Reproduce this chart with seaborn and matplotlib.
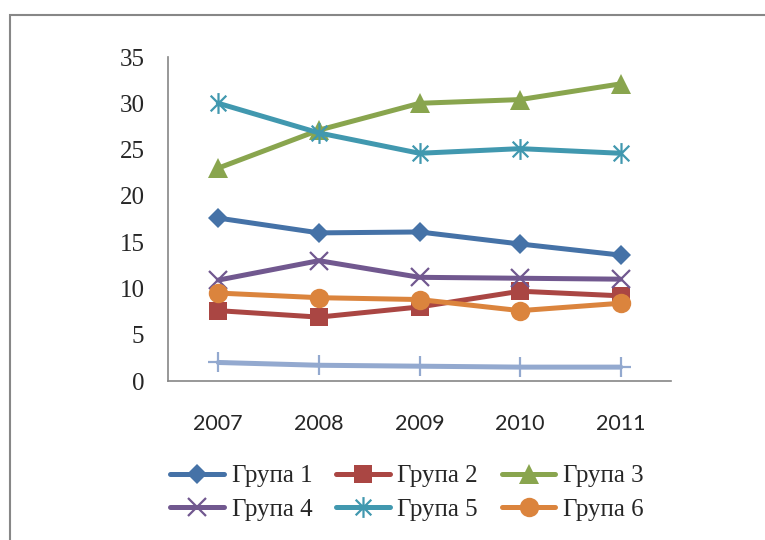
import numpy as np
import pandas as pd
import matplotlib
matplotlib.use("Agg")
import matplotlib.pyplot as plt
from matplotlib.path import Path
from matplotlib.patches import Rectangle
import seaborn as sns

years = ["2007", "2008", "2009", "2010", "2011"]
group_names = ["Група 1", "Група 2", "Група 3", "Група 4", "Група 5", "Група 6", "Група 7"]
group1 = [17.6, 16.0, 16.1, 14.8, 13.6]
group2 = [7.6, 6.9, 8.0, 9.7, 9.2]
group3 = [23.0, 27.1, 30.0, 30.4, 32.1]
group4 = [10.9, 13.0, 11.2, 11.1, 11.0]
group5 = [30.0, 26.8, 24.6, 25.1, 24.6]
group6 = [9.5, 9.0, 8.8, 7.6, 8.4]
group7 = [2.0, 1.7, 1.6, 1.5, 1.5]
y_ticks = [0, 5, 10, 15, 20, 25, 30, 35]

series = [group1, group2, group3, group4, group5, group6, group7]
colors = ["#4572A7", "#AA4643", "#89A54E", "#71588F", "#4198AF", "#DB843D", "#93A9CF"]

# asterisk marker: vertical stroke plus an X
star = Path(
    [(0, -1), (0, 1), (-0.75, -0.75), (0.75, 0.75), (-0.75, 0.75), (0.75, -0.75)],
    [Path.MOVETO, Path.LINETO, Path.MOVETO, Path.LINETO, Path.MOVETO, Path.LINETO],
)
marker_styles = [
    dict(marker="D", markersize=10, markeredgewidth=0),
    dict(marker="s", markersize=13, markeredgewidth=0),
    dict(marker="^", markersize=14.5, markeredgewidth=0),
    dict(marker="x", markersize=13, markeredgewidth=1.6),
    dict(marker=star, markersize=15, markeredgewidth=1.6),
    dict(marker="o", markersize=14, markeredgewidth=0),
    dict(marker="+", markersize=15, markeredgewidth=1.6),
]

df = pd.DataFrame({
    "year": np.tile(years, len(series)),
    "group": np.repeat(group_names, len(years)),
    "value": np.concatenate(series),
})

sns.set_theme(style="white")
fig = plt.figure(figsize=(7.65, 5.4), dpi=100)
ax = fig.add_axes([168 / 765, 1 - 381 / 540, (671 - 168) / 765, (381 - 57) / 540])

for name, color, ms in zip(group_names, colors, marker_styles):
    sub = df[df["group"] == name]
    sns.lineplot(
        data=sub, x="year", y="value", ax=ax, color=color, linewidth=3.6,
        markeredgecolor=color, markerfacecolor=color,
        label=name if name != "Група 7" else "_nolegend_",
        legend=False, **ms,
    )

ax.set_xlim(-0.5, 4.5)
ax.set_ylim(0, 35)
ax.set_yticks(y_ticks)
ax.set_yticklabels([str(t) for t in y_ticks], family="Liberation Serif", fontsize=18)
ax.set_xticks(range(len(years)))
ax.set_xticklabels(years, family="Lato", fontsize=15.5)
ax.tick_params(axis="y", length=0, pad=17)
ax.tick_params(axis="x", length=0, pad=24)
ax.set_xlabel("")
ax.set_ylabel("")
for side in ["top", "right"]:
    ax.spines[side].set_visible(False)
for side in ["left", "bottom"]:
    ax.spines[side].set_color("#868686")
    ax.spines[side].set_linewidth(1.2)
ax.grid(False)

handles, labels = ax.get_legend_handles_labels()
# legend fills column by column; reorder so rows read 1-2-3 / 4-5-6
order = [0, 3, 1, 4, 2, 5]
for h in handles:
    h.set_solid_capstyle("round")
leg = fig.legend(
    [handles[i] for i in order], [labels[i] for i in order], ncol=3, loc="center",
    bbox_to_anchor=(407 / 765, 1 - 493 / 540), frameon=False,
    prop={"family": "Liberation Serif", "size": 18},
    handlelength=2.15, handletextpad=0.3, columnspacing=0.95, labelspacing=0.45,
    borderaxespad=0, borderpad=0,
)

fig.patches.append(Rectangle((10 / 765, -0.05), 1.2, 1 - 15 / 540 + 0.05,
                             transform=fig.transFigure, fill=False,
                             edgecolor="#878787", linewidth=1.5))

fig.savefig("out.png", dpi=100, facecolor="white")
